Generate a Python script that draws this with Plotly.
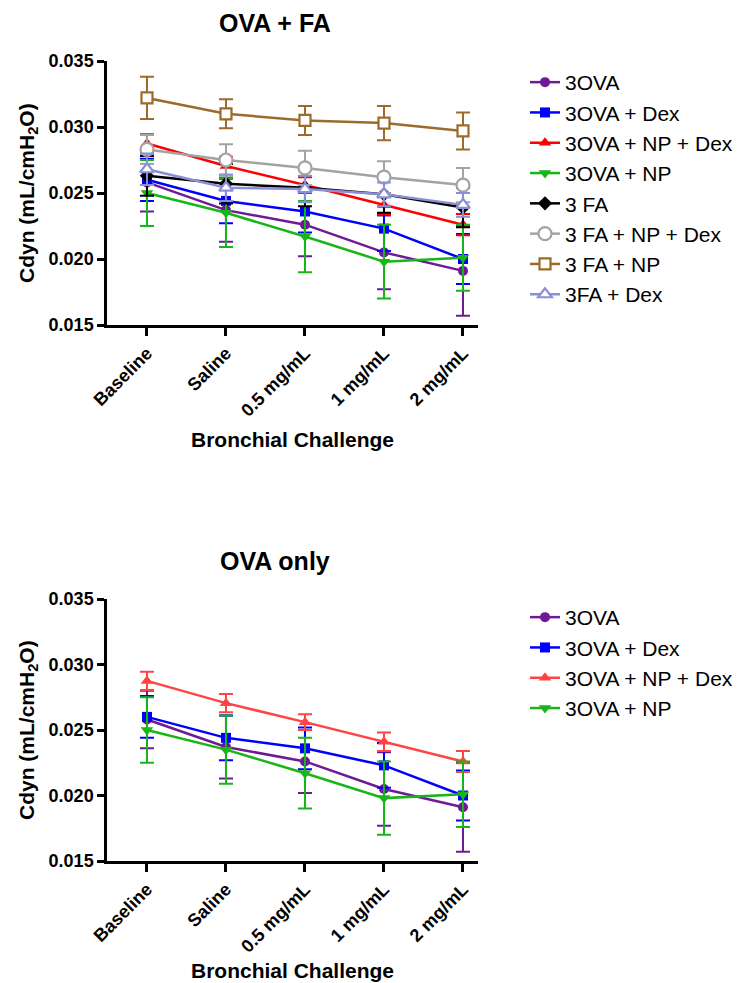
import plotly.graph_objects as go

categories = ["Baseline", "Saline", "0.5 mg/mL", "1 mg/mL", "2 mg/mL"]
x_idx = [0, 1, 2, 3, 4]

ova = [0.0258, 0.0237, 0.0226, 0.0205, 0.0191]
ova_err = [0.0022, 0.0024, 0.0024, 0.0028, 0.0034]
ova_dex = [0.0260, 0.0244, 0.0236, 0.0223, 0.0200]
ova_dex_err = [0.0016, 0.0017, 0.0016, 0.0017, 0.0019]
ova_np_dex = [0.02875, 0.02705, 0.0256, 0.0241, 0.0226]
ova_np_dex_err = [0.0007, 0.0007, 0.0006, 0.0007, 0.0008]
ova_np = [0.0250, 0.0235, 0.0217, 0.0198, 0.0201]
ova_np_err = [0.0025, 0.0026, 0.0027, 0.0028, 0.0025]

fa = [0.0263, 0.0257, 0.0254, 0.0249, 0.0239]
fa_err = [0.0015, 0.0015, 0.0014, 0.0014, 0.0015]
fa_np_dex = [0.0283, 0.0275, 0.0269, 0.0262, 0.0256]
fa_np_dex_err = [0.0011, 0.0012, 0.0013, 0.0012, 0.0013]
fa_np = [0.0322, 0.0310, 0.0305, 0.0303, 0.0297]
fa_np_err = [0.0016, 0.0011, 0.0011, 0.0013, 0.0014]
fa_dex = [0.0268, 0.0254, 0.0253, 0.0249, 0.0241]
fa_dex_err = [0.0012, 0.0010, 0.0010, 0.0009, 0.0009]

y_ticks = [0.015, 0.020, 0.025, 0.030, 0.035]

FONT = "Liberation Sans, Arial, sans-serif"

top_series = [
    ("3OVA", ova, ova_err, "#6E1A96", "circle", 10),
    ("3OVA + Dex", ova_dex, ova_dex_err, "#0000FF", "square", 10),
    ("3OVA + NP + Dex", ova_np_dex, ova_np_dex_err, "#FF0000", "triangle-up", 11),
    ("3OVA + NP", ova_np, ova_np_err, "#17B517", "triangle-down", 11),
    ("3 FA", fa, fa_err, "#000000", "diamond", 11),
    ("3 FA + NP + Dex", fa_np_dex, fa_np_dex_err, "#A3A3A3", "circle-open", 13),
    ("3 FA + NP", fa_np, fa_np_err, "#9C6A2A", "square-open", 11),
    ("3FA + Dex", fa_dex, fa_dex_err, "#8C8FD6", "triangle-up-open", 12),
]
bottom_series = [
    ("3OVA", ova, ova_err, "#6E1A96", "circle", 10),
    ("3OVA + Dex", ova_dex, ova_dex_err, "#0000FF", "square", 10),
    ("3OVA + NP + Dex", ova_np_dex, ova_np_dex_err, "#FF4444", "triangle-up", 11),
    ("3OVA + NP", ova_np, ova_np_err, "#17B517", "triangle-down", 11),
]

fig = go.Figure()


def make_marker(sym, size, col):
    if sym.endswith("-open"):
        return dict(symbol=sym.replace("-open", ""), size=size, color="white",
                    line=dict(color=col, width=2.2))
    return dict(symbol=sym, size=size, color=col, line=dict(color=col, width=0))


for name, vals, errs, col, sym, size in top_series:
    fig.add_trace(go.Scatter(
        x=x_idx, y=vals, name=name, mode="lines+markers",
        line=dict(color=col, width=2.5), marker=make_marker(sym, size, col),
        error_y=dict(type="data", array=errs, visible=True, color=col, thickness=2, width=7),
        xaxis="x", yaxis="y", legend="legend",
    ))

for name, vals, errs, col, sym, size in bottom_series:
    fig.add_trace(go.Scatter(
        x=x_idx, y=vals, name=name, mode="lines+markers",
        line=dict(color=col, width=2.5), marker=make_marker(sym, size, col),
        error_y=dict(type="data", array=errs, visible=True, color=col, thickness=2, width=7),
        xaxis="x2", yaxis="y2", legend="legend2",
    ))

H = 983
L, R, T, B = 99, 275, 53, 130
ph = H - T - B


def py(px):
    return (H - B - px) / ph


def px_x(px):
    return (px - L) / (745 - L - R)


xcommon = dict(
    range=[-0.506, 4.19], tickmode="array", tickvals=x_idx, ticktext=categories,
    tickangle=-45, showline=True, linecolor="black", linewidth=2.5,
    ticks="outside", ticklen=8, tickwidth=2.5, tickcolor="black",
    showgrid=False, zeroline=False,
    tickfont=dict(family=FONT, size=18, color="black", weight="bold"),
)
ycommon = dict(
    range=[0.015, 0.035], tickmode="array", tickvals=y_ticks,
    ticktext=["%.3f" % v for v in y_ticks],
    showline=True, linecolor="black", linewidth=2.5,
    ticks="outside", ticklen=7, tickwidth=2.5, tickcolor="black",
    showgrid=False, zeroline=False,
    tickfont=dict(family=FONT, size=18, color="black", weight="bold"),
)

legend_common = dict(xanchor="left", yanchor="top",
                     font=dict(family=FONT, size=21, color="black"),
                     tracegroupgap=0, bgcolor="rgba(0,0,0,0)")

fig.update_layout(
    width=745, height=983,
    margin=dict(l=L, r=R, t=T, b=B),
    paper_bgcolor="white", plot_bgcolor="white",
    xaxis=dict(xcommon, domain=[0, 1], anchor="y"),
    yaxis=dict(ycommon, domain=[py(317), py(53)], anchor="x"),
    xaxis2=dict(xcommon, domain=[0, 1], anchor="y2"),
    yaxis2=dict(ycommon, domain=[py(853), py(591)], anchor="x2"),
    legend=dict(legend_common, x=px_x(517), y=py(54)),
    legend2=dict(legend_common, x=px_x(517), y=py(589)),
    showlegend=True,
)

ann_font_title = dict(family=FONT, size=25, color="black", weight="bold")
ann_font_axis = dict(family=FONT, size=21, color="black", weight="bold")
annotations = [
    dict(text="OVA + FA", x=px_x(267), y=py(15), font=ann_font_title),
    dict(text="OVA only", x=px_x(267), y=py(553), font=ann_font_title),
    dict(text="Bronchial Challenge", x=px_x(284), y=py(431), font=ann_font_axis),
    dict(text="Bronchial Challenge", x=px_x(284), y=py(962), font=ann_font_axis),
    dict(text="Cdyn (mL/cmH<sub>2</sub>O)", x=px_x(20), y=py(185), textangle=-90, font=ann_font_axis),
    dict(text="Cdyn (mL/cmH<sub>2</sub>O)", x=px_x(20), y=py(722), textangle=-90, font=ann_font_axis),
]
for a in annotations:
    a.update(xref="paper", yref="paper", showarrow=False, xanchor="center", yanchor="middle")
fig.update_layout(annotations=annotations)

fig.write_html("out.html")
